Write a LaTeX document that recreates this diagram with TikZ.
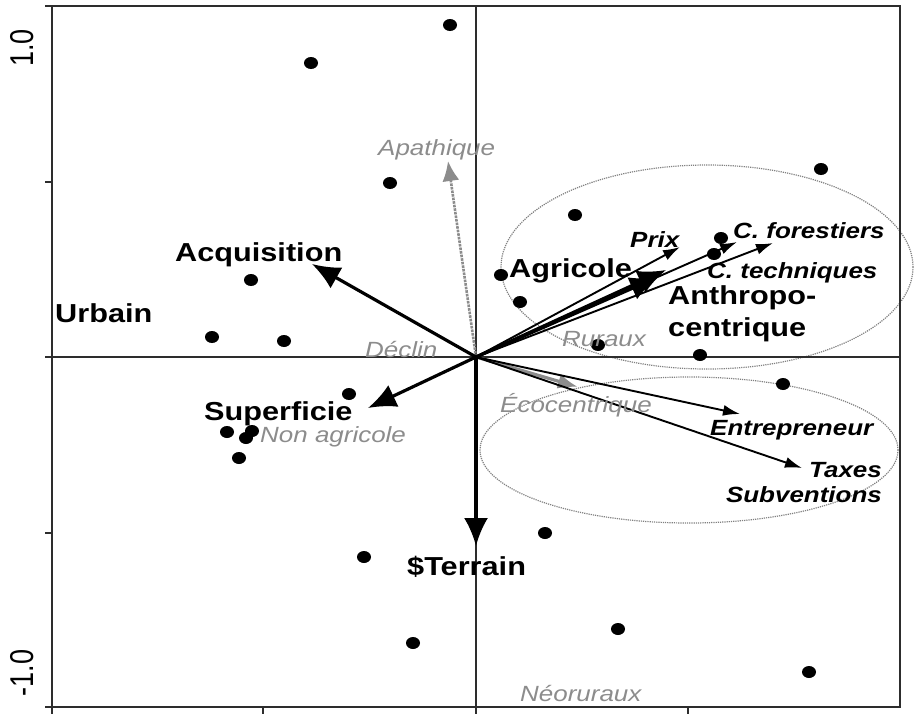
\documentclass[tikz,border=0pt]{standalone}
\usepackage{fontspec}
\newfontfamily\lblfont[FakeStretch=1.18]{Liberation Sans}
\newfontfamily\axisfont[FakeStretch=0.82]{Liberation Sans}
\usetikzlibrary{arrows.meta, shapes.geometric}
\definecolor{labelgray}{RGB}{140,140,140}
\definecolor{axisgray}{RGB}{45,45,45}

\begin{document}
\begin{tikzpicture}[
        x=1pt, y=-1pt,
        every node/.style={inner sep=0pt, anchor=west},
        site/.style={ellipse, fill=black, minimum width=14pt, minimum height=12pt, anchor=center},
        biglbl/.style={font=\lblfont\bfseries\fontsize{26}{32}\selectfont, align=left},
        varlbl/.style={font=\lblfont\bfseries\itshape\fontsize{22}{25}\selectfont},
        grouplbl/.style={font=\lblfont\itshape\fontsize{22}{25}\selectfont, text=labelgray},
        bigarrow/.style={line width=3.2pt, -{Latex[length=28pt,width=24pt]}},
        thinarrow/.style={line width=1.9pt, -{Latex[length=17pt,width=11pt]}},
        grayarrow/.style={labelgray, line width=3.2pt, -{Latex[length=20pt,width=15pt]}},
        group/.style={densely dotted, gray, line width=1.2pt},
        ]
        \useasboundingbox (0,0) rectangle (915,713);

        % groupes
        \draw[group] (707,267) ellipse [x radius=206, y radius=102];
        \draw[group] (689,450) ellipse [x radius=209, y radius=73];

        % axes et cadre
        \draw[axisgray, line width=1.8pt] (476,6) -- (476,707);
        \draw[axisgray, line width=1.8pt] (52,357) -- (900,357);
        \draw[axisgray, line width=1.9pt] (52,6) rectangle (900,707);
        \foreach \y in {6,182,357,533,707}
            \draw[axisgray, line width=1.5pt] (45,\y) -- (52,\y);
        \foreach \x in {52,263,476,688}
            \draw[axisgray, line width=1.5pt] (\x,707) -- (\x,714);
        \node[font=\axisfont\fontsize{33}{36}\selectfont, rotate=90, anchor=center] (ytop) at (22,48) {1.0};
        \node[font=\axisfont\fontsize{33}{36}\selectfont, rotate=90, anchor=center] (ybot) at (22,673) {-1.0};

        % extremites des vecteurs
        \coordinate (O)    at (476,357);
        \coordinate (acq)  at (312,264);
        \coordinate (sup)  at (368,408);
        \coordinate (ter)  at (476,546);
        \coordinate (agr)  at (666,270);
        \coordinate (ant)  at (658,277);
        \coordinate (prx)  at (680,247);
        \coordinate (cfo)  at (737,242);
        \coordinate (cte)  at (773,243);
        \coordinate (ent)  at (740,414);
        \coordinate (tax)  at (802,468);
        \coordinate (eco)  at (578,387);
        \coordinate (apa)  at (448,161);

        \draw[labelgray, densely dotted, line width=2.6pt, -{Latex[length=20pt,width=17pt]}] (O) -- (apa);
        \draw[grayarrow] (O) -- (eco);
        \draw[bigarrow] (O) -- (acq);
        \draw[bigarrow] (O) -- (sup);
        \draw[bigarrow] (O) -- (ter);
        \draw[bigarrow] (O) -- (ant);
        \draw[bigarrow] (O) -- (agr);
        \draw[thinarrow] (O) -- (prx);
        \draw[thinarrow] (O) -- (cfo);
        \draw[thinarrow] (O) -- (cte);
        \draw[thinarrow] (O) -- (ent);
        \draw[thinarrow] (O) -- (tax);

        % proprietaires
        \foreach \px/\py [count=\i] in {450/25, 311/63, 390/183, 251/280, 212/337, 284/341,
                821/169, 575/215, 501/275, 520/302, 721/238, 714/254, 598/345, 700/355,
                783/384, 349/394, 227/432, 246/438, 252/431, 239/458, 364/557, 413/643,
                545/533, 618/629, 809/672}
            \node[site] (s\i) at (\px,\py) {};

        % etiquettes
        \node[biglbl] (urbain)      at (55,313)  {Urbain};
        \node[biglbl] (acquisition) at (175,255) {Acquisition};
        \node[biglbl] (superficie)  at (204,414) {Superficie};
        \node[biglbl] (terrain)     at (407,567) {\$Terrain};
        \node[biglbl] (agricole)    at (509,271) {Agricole};
        \node[biglbl] (anthropo)    at (668,314) {Anthropo-\\centrique};
        \node[varlbl] (prix)        at (630,240) {Prix};
        \node[varlbl] (forestiers)  at (733,231) {C. forestiers};
        \node[varlbl] (techniques)  at (707,273) {C. techniques};
        \node[varlbl] (entrepreneur) at (710,430) {Entrepreneur};
        \node[varlbl, align=right, anchor=east] (taxes) at (882,483) {Taxes\\Subventions};
        \node[grouplbl] (apathique)  at (378,150) {Apathique};
        \node[grouplbl] (declin)     at (365,349) {Déclin};
        \node[grouplbl] (ruraux)     at (562,339) {Ruraux};
        \node[grouplbl] (ecocentrique) at (500,405) {Écocentrique};
        \node[grouplbl] (nonagricole) at (260,437) {Non agricole};
        \node[grouplbl] (neoruraux)  at (520,693) {Néoruraux};
\end{tikzpicture}
\end{document}
